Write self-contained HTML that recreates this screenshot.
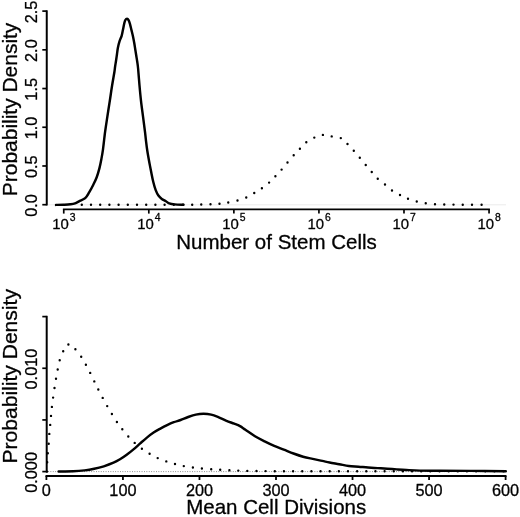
<!DOCTYPE html>
<html><head><meta charset="utf-8"><title>Figure</title>
<style>html,body{margin:0;padding:0;background:#fff;}svg{display:block;}</style>
</head><body>
<svg width="520" height="517" viewBox="0 0 520 517">
<rect width="520" height="517" fill="#fff"/>
<g opacity="0.999">
<path d="M48 204.8 H506" fill="none" stroke="#ececec" stroke-width="1"/>
<path d="M48 471.6 H506" fill="none" stroke="#666" stroke-width="0.8" stroke-dasharray="0.9 1.5"/>
<g fill="none" stroke="#000" stroke-linecap="butt">
<path d="M46.75 10.30 V205.50" stroke-width="2.0"/>
<path d="M46.75 11.10 H42.30" stroke-width="1.7"/>
<path d="M46.75 49.82 H42.30" stroke-width="1.7"/>
<path d="M46.75 88.54 H42.30" stroke-width="1.7"/>
<path d="M46.75 127.26 H42.30" stroke-width="1.7"/>
<path d="M46.75 165.98 H42.30" stroke-width="1.7"/>
<path d="M46.75 204.70 H42.30" stroke-width="1.7"/>
<path d="M62.90 209.30 H489.90" stroke-width="1.8"/>
<path d="M63.75 209.30 V213.60" stroke-width="1.7"/>
<path d="M148.81 209.30 V213.60" stroke-width="1.7"/>
<path d="M233.87 209.30 V213.60" stroke-width="1.7"/>
<path d="M318.93 209.30 V213.60" stroke-width="1.7"/>
<path d="M403.99 209.30 V213.60" stroke-width="1.7"/>
<path d="M489.05 209.30 V213.60" stroke-width="1.7"/>
<path d="M46.70 315.80 V472.40" stroke-width="2.0"/>
<path d="M46.70 316.60 H42.30" stroke-width="1.7"/>
<path d="M46.70 368.27 H42.30" stroke-width="1.7"/>
<path d="M46.70 419.93 H42.30" stroke-width="1.7"/>
<path d="M46.70 471.60 H42.30" stroke-width="1.7"/>
<path d="M45.50 476.00 H506.50" stroke-width="1.8"/>
<path d="M46.40 476.00 V480.00" stroke-width="1.8"/>
<path d="M122.93 476.00 V480.00" stroke-width="1.8"/>
<path d="M199.47 476.00 V480.00" stroke-width="1.8"/>
<path d="M276.00 476.00 V480.00" stroke-width="1.8"/>
<path d="M352.53 476.00 V480.00" stroke-width="1.8"/>
<path d="M429.07 476.00 V480.00" stroke-width="1.8"/>
<path d="M505.60 476.00 V480.00" stroke-width="1.8"/>
</g>
<g fill="none" stroke="#000" stroke-linejoin="round" stroke-linecap="round">
<path d="M56.00 204.90 C57.25 204.87 61.12 204.80 63.50 204.70 C65.88 204.60 68.38 204.52 70.30 204.30 C72.22 204.08 73.42 203.97 75.00 203.40 C76.58 202.83 78.10 201.77 79.80 200.90 C81.50 200.03 83.62 199.67 85.20 198.20 C86.78 196.73 87.95 194.35 89.30 192.10 C90.65 189.85 92.07 187.18 93.30 184.70 C94.53 182.22 95.68 179.92 96.70 177.20 C97.72 174.48 98.62 171.43 99.40 168.40 C100.18 165.37 100.80 162.18 101.40 159.00 C102.00 155.82 102.38 153.82 103.00 149.30 C103.62 144.78 104.37 137.38 105.10 131.90 C105.83 126.42 106.62 121.57 107.40 116.40 C108.18 111.23 109.02 106.05 109.80 100.90 C110.58 95.75 111.33 90.32 112.10 85.50 C112.87 80.68 113.90 75.15 114.40 72.00 C114.90 68.85 114.82 68.55 115.10 66.60 C115.38 64.65 115.78 62.40 116.10 60.30 C116.42 58.20 116.70 56.10 117.00 54.00 C117.30 51.90 117.48 49.80 117.90 47.70 C118.32 45.60 118.88 43.38 119.50 41.40 C120.12 39.42 121.08 37.68 121.65 35.80 C122.22 33.92 122.48 32.10 122.90 30.10 C123.33 28.10 123.82 25.43 124.20 23.80 C124.58 22.17 124.72 21.17 125.20 20.30 C125.68 19.43 126.48 18.60 127.06 18.60 C127.64 18.60 128.22 19.43 128.70 20.30 C129.18 21.17 129.48 22.17 129.95 23.80 C130.42 25.43 130.99 28.00 131.50 30.10 C132.01 32.20 132.55 34.30 133.00 36.40 C133.45 38.50 133.83 40.60 134.20 42.70 C134.57 44.80 134.87 46.90 135.20 49.00 C135.53 51.10 135.87 53.22 136.20 55.30 C136.53 57.38 136.88 59.30 137.20 61.50 C137.52 63.70 137.72 64.50 138.10 68.50 C138.48 72.50 139.02 80.10 139.50 85.50 C139.98 90.90 140.42 95.75 141.00 100.90 C141.58 106.05 142.33 111.23 143.00 116.40 C143.67 121.57 144.52 127.97 145.00 131.90 C145.48 135.83 145.52 136.85 145.90 140.00 C146.28 143.15 146.75 147.18 147.30 150.80 C147.85 154.42 148.53 158.08 149.20 161.70 C149.87 165.32 150.62 169.12 151.30 172.50 C151.98 175.88 152.57 179.07 153.30 182.00 C154.03 184.93 154.85 187.85 155.70 190.10 C156.55 192.35 157.38 194.03 158.40 195.50 C159.42 196.97 160.55 197.95 161.80 198.90 C163.05 199.85 164.65 200.45 165.90 201.20 C167.15 201.95 167.83 202.87 169.30 203.40 C170.77 203.93 172.33 204.18 174.70 204.40 C177.07 204.62 182.03 204.65 183.50 204.70" stroke-width="2.45"/>
<path d="M58.65 471.50 C61.06 471.47 68.77 471.48 73.10 471.30 C77.42 471.12 81.08 470.82 84.60 470.40 C88.12 469.98 91.00 469.48 94.20 468.80 C97.40 468.12 100.58 467.32 103.80 466.30 C107.02 465.28 110.80 463.87 113.50 462.70 C116.20 461.53 117.80 460.62 120.00 459.30 C122.20 457.98 124.45 456.45 126.70 454.80 C128.95 453.15 131.25 451.30 133.50 449.40 C135.75 447.50 137.97 445.37 140.20 443.40 C142.43 441.43 144.67 439.40 146.90 437.60 C149.13 435.80 151.35 434.10 153.60 432.60 C155.85 431.10 158.15 429.85 160.40 428.60 C162.65 427.35 164.87 426.17 167.10 425.10 C169.33 424.03 171.55 423.05 173.80 422.20 C176.05 421.35 178.22 420.87 180.60 420.00 C182.98 419.13 185.57 417.90 188.10 417.00 C190.63 416.10 193.23 415.13 195.80 414.60 C198.37 414.07 200.93 413.80 203.50 413.80 C206.07 413.80 208.65 414.02 211.20 414.60 C213.75 415.18 216.25 416.27 218.80 417.30 C221.35 418.33 223.93 419.73 226.50 420.80 C229.07 421.87 231.95 422.80 234.20 423.70 C236.45 424.60 238.13 425.18 240.00 426.20 C241.87 427.22 242.90 428.13 245.40 429.80 C247.90 431.47 251.80 434.28 255.00 436.20 C258.20 438.12 261.40 439.70 264.60 441.30 C267.80 442.90 271.00 444.42 274.20 445.80 C277.40 447.18 280.58 448.32 283.80 449.60 C287.02 450.88 290.28 452.32 293.50 453.50 C296.72 454.68 299.90 455.80 303.10 456.70 C306.30 457.60 309.50 458.20 312.70 458.90 C315.90 459.60 319.48 460.30 322.30 460.90 C325.12 461.50 326.78 461.95 329.60 462.50 C332.42 463.05 336.00 463.62 339.20 464.20 C342.40 464.78 345.58 465.58 348.80 466.00 C352.02 466.42 355.28 466.45 358.50 466.70 C361.72 466.95 364.90 467.27 368.10 467.50 C371.30 467.73 374.50 467.90 377.70 468.10 C380.90 468.30 384.10 468.48 387.30 468.70 C390.50 468.92 393.70 469.18 396.90 469.40 C400.10 469.62 402.65 469.80 406.50 470.00 C410.35 470.20 414.42 470.48 420.00 470.60 C425.58 470.72 431.67 470.65 440.00 470.70 C448.33 470.75 459.03 470.82 470.00 470.90 C480.97 470.98 499.83 471.15 505.80 471.20" stroke-width="2.45"/>
<path d="M81.80 204.70h0 M91.00 204.70h0 M100.20 204.70h0 M109.40 204.70h0 M118.60 204.70h0 M127.80 204.70h0 M137.00 204.70h0 M146.20 204.70h0 M155.40 204.70h0 M164.60 204.70h0 M173.80 204.70h0 M183.00 204.70h0 M192.20 204.70h0 M201.25 204.50h0 M210.50 204.25h0 M219.50 203.75h0 M228.25 202.50h0 M237.50 200.50h0 M246.25 197.50h0 M254.25 193.00h0 M261.90 188.30h0 M269.10 182.60h0 M275.40 176.30h0 M281.60 169.60h0 M287.50 162.50h0 M293.70 155.30h0 M299.90 148.70h0 M306.30 142.20h0 M314.30 137.60h0 M322.90 134.90h0 M331.70 136.40h0 M340.80 138.10h0 M347.50 144.00h0 M353.80 150.80h0 M359.80 157.80h0 M365.75 165.00h0 M371.75 172.00h0 M377.75 178.75h0 M385.00 184.50h0 M392.00 190.50h0 M400.00 195.00h0 M408.00 198.75h0 M416.75 201.50h0 M425.75 203.25h0 M435.00 204.25h0 M444.25 204.50h0 M453.50 204.60h0 M462.75 204.70h0 M472.00 204.70h0 M481.60 204.70h0" stroke-width="2.4"/>
<path d="M47.00 471.60h0 M47.20 462.30h0 M47.80 453.30h0 M48.70 443.80h0 M49.30 433.90h0 M50.20 424.90h0 M51.00 415.90h0 M51.90 406.90h0 M53.10 397.60h0 M54.50 388.00h0 M56.00 378.80h0 M57.70 369.50h0 M59.70 360.20h0 M63.20 351.20h0 M68.40 344.50h0 M75.40 349.20h0 M81.20 356.70h0 M85.90 364.80h0 M90.20 372.90h0 M94.30 381.40h0 M98.30 389.50h0 M102.70 397.90h0 M107.20 406.10h0 M111.90 414.00h0 M116.90 422.00h0 M122.30 429.30h0 M128.30 436.50h0 M134.70 442.90h0 M141.90 448.70h0 M149.60 453.80h0 M157.70 458.10h0 M166.30 461.40h0 M175.00 464.00h0 M183.80 466.10h0 M192.90 467.50h0 M201.90 468.50h0 M211.20 469.20h0 M220.20 469.80h0 M229.40 470.30h0 M238.30 470.60h0 M247.30 470.90h0 M256.50 471.00h0 M265.60 471.10h0 M274.80 471.25h0 M283.95 471.25h0 M293.10 471.25h0 M302.25 471.25h0 M311.40 471.25h0 M320.55 471.25h0 M329.70 471.25h0 M338.85 471.25h0 M348.00 471.25h0 M357.15 471.25h0 M366.30 471.25h0 M375.45 471.25h0 M384.60 471.25h0 M393.75 471.25h0 M402.90 471.25h0 M412.05 471.25h0 M421.20 471.25h0 M430.35 471.25h0 M439.50 471.25h0 M448.65 471.25h0 M457.80 471.25h0 M466.95 471.25h0 M476.10 471.25h0 M485.25 471.25h0 M494.40 471.25h0 M503.55 471.25h0" stroke-width="2.4"/>
</g>
<g font-family="Liberation Sans, sans-serif" fill="#000" stroke="#000" stroke-width="0.3" stroke-linejoin="round">
<text transform="translate(36.9 11.90) rotate(-90)" font-size="16.3" text-anchor="middle">2.5</text>
<text transform="translate(36.9 50.62) rotate(-90)" font-size="16.3" text-anchor="middle">2.0</text>
<text transform="translate(36.9 89.34) rotate(-90)" font-size="16.3" text-anchor="middle">1.5</text>
<text transform="translate(36.9 128.06) rotate(-90)" font-size="16.3" text-anchor="middle">1.0</text>
<text transform="translate(36.9 166.78) rotate(-90)" font-size="16.3" text-anchor="middle">0.5</text>
<text transform="translate(36.9 205.50) rotate(-90)" font-size="16.3" text-anchor="middle">0.0</text>
<text transform="translate(17.0 109.4) rotate(-90)" font-size="20.3" text-anchor="middle" textLength="173.5" lengthAdjust="spacingAndGlyphs">Probability Density</text>
<text x="63.85" y="229.0" font-size="14.9" text-anchor="middle">10<tspan font-size="10.4" dx="0.9" dy="-7.7">3</tspan></text>
<text x="148.91" y="229.0" font-size="14.9" text-anchor="middle">10<tspan font-size="10.4" dx="0.9" dy="-7.7">4</tspan></text>
<text x="233.97" y="229.0" font-size="14.9" text-anchor="middle">10<tspan font-size="10.4" dx="0.9" dy="-7.7">5</tspan></text>
<text x="319.03" y="229.0" font-size="14.9" text-anchor="middle">10<tspan font-size="10.4" dx="0.9" dy="-7.7">6</tspan></text>
<text x="404.09" y="229.0" font-size="14.9" text-anchor="middle">10<tspan font-size="10.4" dx="0.9" dy="-7.7">7</tspan></text>
<text x="489.15" y="229.0" font-size="14.9" text-anchor="middle">10<tspan font-size="10.4" dx="0.9" dy="-7.7">8</tspan></text>
<text x="276.5" y="248.7" font-size="20.3" text-anchor="middle" textLength="200.5" lengthAdjust="spacingAndGlyphs">Number of Stem Cells</text>
<text transform="translate(36.6 369.07) rotate(-90)" font-size="16.3" text-anchor="middle">0.010</text>
<text transform="translate(36.6 472.40) rotate(-90)" font-size="16.3" text-anchor="middle">0.000</text>
<text transform="translate(17.0 376.3) rotate(-90)" font-size="20.3" text-anchor="middle" textLength="174.5" lengthAdjust="spacingAndGlyphs">Probability Density</text>
<text x="46.40" y="496.0" font-size="16.3" text-anchor="middle">0</text>
<text x="122.93" y="496.0" font-size="16.3" text-anchor="middle">100</text>
<text x="199.47" y="496.0" font-size="16.3" text-anchor="middle">200</text>
<text x="276.00" y="496.0" font-size="16.3" text-anchor="middle">300</text>
<text x="352.53" y="496.0" font-size="16.3" text-anchor="middle">400</text>
<text x="429.07" y="496.0" font-size="16.3" text-anchor="middle">500</text>
<text x="505.60" y="496.0" font-size="16.3" text-anchor="middle">600</text>
<text x="276.2" y="514.2" font-size="20.3" text-anchor="middle" textLength="180" lengthAdjust="spacingAndGlyphs">Mean Cell Divisions</text>
</g>
</g>
</svg>
</body></html>
